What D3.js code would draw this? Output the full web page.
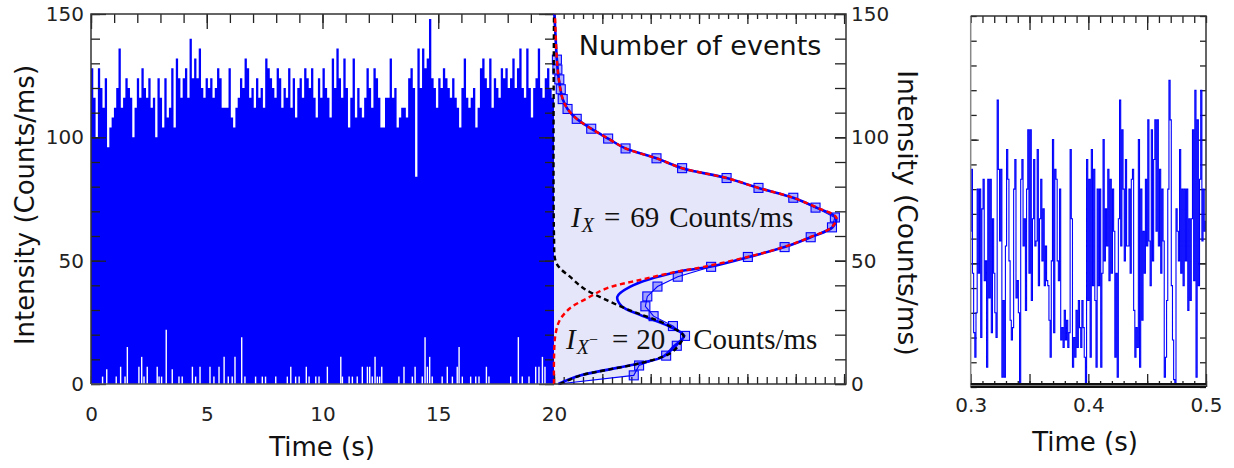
<!DOCTYPE html>
<html><head><meta charset="utf-8">
<script src="https://cdn.jsdelivr.net/npm/d3@7"></script>
<style>html,body{margin:0;padding:0;background:#fff;}svg{display:block;}</style>
</head><body>
<svg id="chart" width="1234" height="468"></svg>
<script>
// ---------- DATA ----------
// Left panel: 20 s time trace (upper envelope per display bin, counts/ms)
const traceTopA = [128,116,100,128,120,112,124,96,104,108,112,120,136,112,116,124,120,116,100,112,124,116,128,120,116,124,112,116,100,124,116,104,124,108,112,128,104,132,124,116,124,128,116,140,124,132,124,136,120,116,124,120,124,116,120,128,124,112,112,112,128,108,104,112,116,124,120,132,128,116,120,112,124,116,120,112,132,128,124,120,116,128,124,112,120,116,128,112,124,108,120,124,116,128,124,120,128,116,108,124,116];
const traceTopB = [128,120,116,108,132,120,136,124,116,132,120,104,116,132,108,120,112,108,116,128,120,112,128,124,116,104,104,116,116,132,116,120,104,108,112,112,108,124,128,120,84,136,120,136,128,132,148,124,120,112,124,120,128,124,120,116,124,116,112,104,120,132,116,112,116,120,104,112,128,132,124,120,132,112,124,120,116,128,124,128,120,124,132,120,128,136,120,116,136,120,108,120,124,136,120,116,124,128,120,116];
// low-intensity dips visible at the bottom of the trace (time s, height counts/ms)
const gapTime = [0.50,0.68,1.09,1.28,1.47,1.57,2.07,2.19,2.29,2.43,2.86,2.94,3.05,3.25,3.51,3.80,3.94,4.38,4.52,4.71,5.14,5.31,5.53,5.75,5.93,6.10,6.22,6.51,6.65,7.11,7.40,7.54,7.98,8.48,8.63,8.84,8.99,9.30,9.42,9.71,9.85,10.21,10.79,10.86,11.15,11.29,11.50,11.72,11.94,12.04,12.15,12.27,12.37,12.47,12.56,13.30,13.52,13.88,14.00,14.31,14.43,14.53,14.63,14.74,15.17,15.39,15.61,15.82,15.90,16.04,16.40,16.62,16.76,17.08,17.19,18.13,18.46,18.63,18.92,19.21,19.35,19.50,19.61];
const gapHeight = [3,6,3,7,3,15,7,11,3,7,7,3,3,22,6,3,3,7,3,7,7,3,7,11,3,3,11,19,3,3,3,3,3,3,7,3,3,7,3,3,3,7,11,3,3,3,3,7,7,7,3,11,3,3,7,3,7,3,7,3,19,7,11,3,3,7,3,7,15,3,3,3,3,7,3,3,19,3,3,7,7,11,7];

// Middle panel: histogram of intensities (bin centre counts/ms, number of events)
const histIntensity = [3.5,7.5,11.5,15.5,19.5,23.5,27.5,31.5,35.5,39.5,43.5,47.5,51.5,55.5,59.5,63.5,67.5,71.5,75.5,79.5,83.5,87.5,91.5,95.5,99.5,103.5,107.5,111.5,115.5,119.5,123.5,127.5,131.5];
const histCount = [1.65,1.76,2.32,2.54,2.71,2.46,2.06,1.89,1.93,2.14,2.56,3.25,4.01,4.77,5.31,5.75,5.81,5.41,4.95,4.23,3.57,2.65,2.12,1.48,1.12,0.77,0.47,0.28,0.18,0.14,0.11,0.07,0.06];
const histEdgeIntensity = [0,150];
const histEdgeCount = [0.09,0.01];
// total fit (solid blue)
const fitIntensity = [0,3.4,8.4,11.1,15.1,19.5,23.2,28,31.6,35.4,39.4,45.5,47.5,51.5,55.5,59.5,63.5,67.5,71.5,75.5,79.5,83.5,87.5,91.5,95.5,99.5,103.5,107.5,111.5,115.5,123.5,131.5,150];
const fitCount = [0.09,0.54,1.78,2.26,2.47,2.69,2.40,1.78,1.40,1.31,1.57,2.56,3.22,4.03,4.77,5.31,5.76,5.83,5.43,4.95,4.23,3.57,2.65,2.12,1.48,1.12,0.77,0.47,0.28,0.18,0.10,0.06,0.01];
// high-state component (red dashed)
const highIntensity = [0,10,20,25.9,30.7,34.7,38.8,42.2,45.5,47.5,51.5,55.5,59.5,63.5,67.5,71.5,75.5,79.5,83.5,87.5,91.5,95.5,99.5,103.5,107.5,111.5,115.5,123.5,131.5,150];
const highCount = [0,0,0.03,0.12,0.33,0.68,1.09,1.78,2.54,3.10,4.00,4.75,5.30,5.74,5.84,5.44,4.95,4.23,3.57,2.65,2.12,1.48,1.12,0.77,0.47,0.28,0.18,0.10,0.06,0.02];
// low-state component (black dashed)
const lowIntensity = [0,3.4,5.7,8.4,12.4,16.5,19.5,22.6,25.9,29.3,34,38.8,43.5,47,50,60,150];
const lowCount = [0.12,0.54,1.09,1.78,2.40,2.61,2.68,2.47,2.12,1.64,1.09,0.61,0.33,0.12,0.03,0,0];

// Right panel: zoom 0.3-0.5 s, 1 ms bins (counts/ms)
const zoomA = [63,88,46,22,12,30,80,46,80,20,72,84,43,51,8,84,36,84,22,68,46,30,20,116,88,59,88,4,35,4,57,96,84,51,27,19,24,80,92,36,43,30,0,84,92,57,68,31,80,104,46,104,35,68,92,57,59,96,41,68,84,51,72,41,57,43,41];
const zoomB = [27,12,51,100,22,88,84,51,43,80,19,24,16,31,19,27,16,22,96,68,8,20,12,31,16,35,24,16,35,24,12,0,92,35,84,12,96,41,88,35,8,80,41,80,8,46,100,51,72,57,88,43,84,46,80,63,12,46,4,68,116,57,104,80,51,92,57];
const zoomC = [57,80,46,84,88,31,12,24,16,100,8,80,27,63,46,84,57,108,59,41,104,51,92,108,63,108,57,88,46,80,59,4,12,35,80,124,108,41,19,3,0,72,63,51,96,46,80,41,80,51,80,31,68,35,68,104,43,120,4,108,41,84,120,59,80,63,67];

// tick values / labels
const timeTicksMajor = [0,5,10,15,20];
const intensityTicksMajor = [0,50,100,150];
const zoomTicksLabelled = [0.3,0.4,0.5];
const labels = {
  yTitle: "Intensity (Counts/ms)",
  xTitle: "Time (s)",
  histTitle: "Number of events",
  high: "69", low: "20", unit: "Counts/ms"
};

// ---------- DRAWING ----------
const svg = d3.select("#chart");
const SANS = "DejaVu Sans";
const SERIF = "Liberation Serif";
const BLUE = "#0000ff";
const FRAME = "#333";

const xT = d3.scaleLinear().domain([0,20]).range([91,554]);
const yI = d3.scaleLinear().domain([0,150]).range([384,14]);
const xN = d3.scaleLinear().domain([0,6.04]).range([554,846]);
const xR = d3.scaleLinear().domain([0.3,0.5]).range([970.7,1206]);
const yR = d3.scaleLinear().domain([0,150]).range([387,16]);

function styleAxis(g, color, width){
  g.select(".domain").remove();
  g.attr("font-family", SANS).attr("font-size", 20);
  g.selectAll("line").attr("stroke", color || "#222").attr("stroke-width", width || 1.3);
  g.selectAll("text").attr("fill", "#222");
}
function ticksAxis(parent, axisFn, scale, values, len, transform, opts={}){
  const g = parent.append("g").attr("transform", transform);
  let ax = axisFn(scale).tickValues(values).tickSize(-len);
  if (opts.labels) ax = ax.tickPadding(opts.padding).tickFormat(opts.fmt || d3.format("d"));
  else ax = ax.tickFormat("");
  g.call(ax);
  styleAxis(g, opts.color, opts.width);
  return g;
}

// ===== Left panel =====
const left = svg.append("g");
ticksAxis(left, d3.axisBottom, xT, d3.range(0,21,1), 8, "translate(0,384)");
ticksAxis(left, d3.axisBottom, xT, timeTicksMajor, 14, "translate(0,384)", {labels:true, padding:23});

function envelopePoints(vals, t0, t1){
  const n = vals.length, dt = (t1-t0)/n;
  return vals.map((v,i)=>({t:t0+i*dt, v}));
}
const envPts = envelopePoints(traceTopA,0,10).concat(envelopePoints(traceTopB,10,20));
envPts.push({t:20, v:traceTopB[traceTopB.length-1]});
const envArea = d3.area().curve(d3.curveStepAfter)
  .x(d=>xT(d.t)).y0(yI(0)).y1(d=>yI(d.v));
left.append("path").datum(envPts).attr("d", envArea).attr("fill", BLUE);
left.selectAll("line.gap").data(gapTime.map((t,i)=>({t, h:gapHeight[i]})))
  .enter().append("line").attr("class","gap")
  .attr("x1", d=>xT(d.t)).attr("x2", d=>xT(d.t))
  .attr("y1", yI(0)).attr("y2", d=>yI(d.h))
  .attr("stroke", "#fff").attr("stroke-width", 1.4);

ticksAxis(left, d3.axisLeft, yI, d3.range(0,151,10), 9, "translate(91,0)");
ticksAxis(left, d3.axisLeft, yI, intensityTicksMajor, 15, "translate(91,0)", {labels:true, padding:7});
ticksAxis(left, d3.axisRight, yI, d3.range(0,151,10), 9, "translate(554,0)");
ticksAxis(left, d3.axisRight, yI, intensityTicksMajor, 15, "translate(554,0)");
ticksAxis(left, d3.axisTop, xT, d3.range(0,21,1), 9, "translate(0,14)");
ticksAxis(left, d3.axisTop, xT, timeTicksMajor, 15, "translate(0,14)");
left.append("path").attr("d", `M${xT(0)},${yI(0)}V${yI(150)}H${xT(20)}`)
  .attr("fill","none").attr("stroke", FRAME).attr("stroke-width",1.5);
left.append("line").attr("x1",xT(0)).attr("x2",xT(20)).attr("y1",yI(0)).attr("y2",yI(0))
  .attr("stroke", "#555").attr("stroke-width",1.5);

// ===== Middle (histogram) panel =====
const mid = svg.append("g");
const histPts = [{i:histEdgeIntensity[0], n:histEdgeCount[0]}]
  .concat(histIntensity.map((v,k)=>({i:v, n:histCount[k]})))
  .concat([{i:histEdgeIntensity[1], n:histEdgeCount[1]}]);
mid.append("path").datum(histPts)
  .attr("d", d3.area().y(d=>yI(d.i)).x0(xN(0)).x1(d=>xN(d.n)))
  .attr("fill", "#e6e6fa");
ticksAxis(mid, d3.axisTop, xN, d3.range(0,6.01,0.2), 5, "translate(0,14)");
ticksAxis(mid, d3.axisTop, xN, d3.range(0,7,1), 10, "translate(0,14)");
ticksAxis(mid, d3.axisBottom, xN, d3.range(0,6.01,0.2), 7, "translate(0,384)");
ticksAxis(mid, d3.axisBottom, xN, d3.range(0,7,1), 10, "translate(0,384)");
ticksAxis(mid, d3.axisRight, yI, d3.range(0,151,10), 11, "translate(846,0)");
ticksAxis(mid, d3.axisRight, yI, intensityTicksMajor, 11, "translate(846,0)", {labels:true, padding:5});

mid.append("path").datum(histPts)
  .attr("d", d3.line().x(d=>xN(d.n)).y(d=>yI(d.i)))
  .attr("fill","none").attr("stroke", BLUE).attr("stroke-width",1.1);
mid.selectAll("rect.sq").data(histIntensity.map((v,k)=>({i:v, n:histCount[k]})))
  .enter().append("rect").attr("class","sq")
  .attr("x", d=>xN(d.n)-4.5).attr("y", d=>yI(d.i)-4.5)
  .attr("width",9).attr("height",9)
  .attr("fill", BLUE).attr("fill-opacity",0.3)
  .attr("stroke", BLUE).attr("stroke-width",1.1);
const curveLine = d3.line().x(d=>xN(d.n)).y(d=>yI(d.i)).curve(d3.curveCatmullRom);
mid.append("path").datum(fitIntensity.map((v,k)=>({i:v, n:fitCount[k]})))
  .attr("d", curveLine).attr("fill","none").attr("stroke", BLUE).attr("stroke-width",2.6);
mid.append("path").datum(lowIntensity.map((v,k)=>({i:v, n:lowCount[k]})))
  .attr("d", curveLine).attr("fill","none").attr("stroke", "#000").attr("stroke-width",2.4)
  .attr("stroke-dasharray","5,3.5");
mid.append("path").datum(highIntensity.map((v,k)=>({i:v, n:highCount[k]})))
  .attr("d", curveLine).attr("fill","none").attr("stroke", "#ff0000").attr("stroke-width",2.4)
  .attr("stroke-dasharray","5,3.5");
mid.append("path").attr("d", `M${xN(0)},${yI(150)}H${xN(6.04)}V${yI(0)}H${xN(0)}`)
  .attr("fill","none").attr("stroke", FRAME).attr("stroke-width",1.5);

mid.append("text").attr("x", 700).attr("y", 55).attr("text-anchor","middle")
  .attr("font-family", SANS).attr("font-size", 27).attr("fill","#111").text(labels.histTitle);

const m1 = mid.append("text").attr("x", 571).attr("y", 227)
  .attr("font-family", SERIF).attr("font-size", 29).attr("fill","#111");
m1.append("tspan").attr("font-style","italic").text("I");
m1.append("tspan").attr("font-style","italic").attr("font-size",20).attr("dx",1).attr("dy",5).text("X");
m1.append("tspan").attr("dy",-5).attr("dx",10).text("=");
m1.append("tspan").attr("dx",10).text(labels.high);
m1.append("tspan").attr("dx",10).text(labels.unit);

const m2 = mid.append("text").attr("x", 566).attr("y", 349)
  .attr("font-family", SERIF).attr("font-size", 29).attr("fill","#111");
m2.append("tspan").attr("font-style","italic").text("I");
m2.append("tspan").attr("font-style","italic").attr("font-size",20).attr("dx",1).attr("dy",5).text("X");
m2.append("tspan").attr("font-size",16).attr("dy",-9).text("\u2212");
m2.append("tspan").attr("dy",4).attr("dx",14).text("=");
m2.append("tspan").attr("dx",8).text(labels.low);
m2.append("tspan").attr("dx",28).text(labels.unit);

svg.append("text").attr("transform","translate(34,205) rotate(-90)").attr("text-anchor","middle")
  .attr("font-family", SANS).attr("font-size",26).attr("fill","#111").text(labels.yTitle);
svg.append("text").attr("transform","translate(898,213) rotate(90)").attr("text-anchor","middle")
  .attr("font-family", SANS).attr("font-size",26.5).attr("fill","#111").text(labels.yTitle);
svg.append("text").attr("x", 322).attr("y", 456).attr("text-anchor","middle")
  .attr("font-family", SANS).attr("font-size",26).attr("fill","#111").text(labels.xTitle);

// ===== Right panel =====
const right = svg.append("g");
ticksAxis(right, d3.axisLeft, yR, d3.range(0,151,10), 6, "translate(970.7,0)");
ticksAxis(right, d3.axisLeft, yR, [50,100], 8, "translate(970.7,0)");
ticksAxis(right, d3.axisRight, yR, d3.range(0,151,10), 6, "translate(1206,0)");
ticksAxis(right, d3.axisRight, yR, [50,100], 8, "translate(1206,0)");
ticksAxis(right, d3.axisTop, xR, d3.range(0.30,0.5001,0.01), 7, "translate(0,16)");
ticksAxis(right, d3.axisTop, xR, [0.35,0.4,0.45], 14, "translate(0,16)");
ticksAxis(right, d3.axisBottom, xR, d3.range(0.30,0.5001,0.01), 6, "translate(0,387)");
ticksAxis(right, d3.axisBottom, xR, zoomTicksLabelled.concat([0.35,0.45]), 13, "translate(0,387)");
ticksAxis(right, d3.axisBottom, xR, zoomTicksLabelled, 0, "translate(0,387)",
  {labels:true, padding:11, fmt:d3.format(".1f")});

const zoomVals = zoomA.concat(zoomB, zoomC);
const zoomPts = zoomVals.map((v,k)=>({t: 0.3 + k*0.2/(zoomVals.length-1), v}));
right.append("path").datum(zoomPts)
  .attr("d", d3.line().x(d=>xR(d.t)).y(d=>yR(d.v)).curve(d3.curveStep))
  .attr("fill","none").attr("stroke", BLUE).attr("stroke-width",1.1);

right.append("path").attr("d", `M${xR(0.3)},${yR(0)}V${yR(150)}`)
  .attr("fill","none").attr("stroke","#888").attr("stroke-width",1.5);
right.append("path").attr("d", `M${xR(0.3)},${yR(150)}H${xR(0.5)}V${yR(0)}`)
  .attr("fill","none").attr("stroke",FRAME).attr("stroke-width",1.5);
right.append("line").attr("x1",xR(0.3)).attr("x2",xR(0.5)).attr("y1",yR(0)).attr("y2",yR(0))
  .attr("stroke","#111").attr("stroke-width",2);
right.append("line").attr("x1",xR(0.3)).attr("x2",xR(0.5)).attr("y1",yR(0)-3).attr("y2",yR(0)-3)
  .attr("stroke","#111").attr("stroke-width",2);
right.append("line").attr("x1",xR(0.3)).attr("x2",xR(0.5)).attr("y1",yR(0)-1.5).attr("y2",yR(0)-1.5)
  .attr("stroke","#777").attr("stroke-width",1);

svg.append("text").attr("x", 1085).attr("y", 451).attr("text-anchor","middle")
  .attr("font-family", SANS).attr("font-size",26).attr("fill","#111").text(labels.xTitle);
</script>
</body></html>
